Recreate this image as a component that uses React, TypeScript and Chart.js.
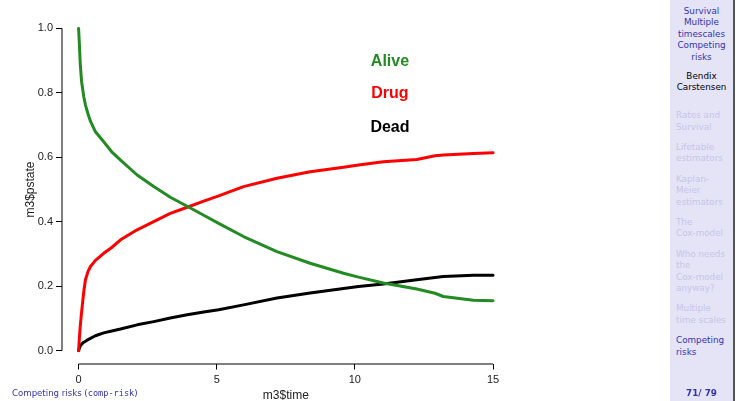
import React, { useEffect, useRef } from "react";
import { Chart, registerables } from "chart.js";

Chart.register(...registerables);

// Time since entry (years) and state probabilities for the three states
const times = [0, 0.03, 0.06, 0.11, 0.19, 0.25, 0.34, 0.43, 0.61, 0.91, 1.2, 1.52, 2.12, 2.72, 3.32, 3.93, 4.53, 5.07, 5.97, 7.18, 8.38, 9.59, 10.13, 11.03, 12.24, 12.9, 13.2, 14.29, 15];
const alive = [1.0, 0.95, 0.89, 0.834, 0.787, 0.762, 0.735, 0.712, 0.679, 0.648, 0.617, 0.591, 0.545, 0.509, 0.476, 0.448, 0.42, 0.395, 0.354, 0.307, 0.271, 0.24, 0.228, 0.21, 0.191, 0.178, 0.168, 0.156, 0.155];
const drug = [0, 0.04, 0.075, 0.12, 0.185, 0.22, 0.245, 0.261, 0.28, 0.302, 0.32, 0.344, 0.375, 0.4, 0.426, 0.445, 0.464, 0.48, 0.509, 0.535, 0.555, 0.569, 0.576, 0.586, 0.593, 0.605, 0.607, 0.612, 0.614];
const dead = [0, 0.007, 0.014, 0.02, 0.026, 0.029, 0.034, 0.038, 0.046, 0.055, 0.061, 0.067, 0.08, 0.09, 0.101, 0.111, 0.12, 0.127, 0.142, 0.163, 0.179, 0.193, 0.199, 0.207, 0.22, 0.227, 0.23, 0.234, 0.234];

const xTicks = [0, 5, 10, 15];
const yTicks = [0, 0.2, 0.4, 0.6, 0.8, 1.0];

const stateNames = ["Alive", "Drug", "Dead"];
const stateColors = ["#228B22", "#FF0000", "#000000"];
const stateSeries = [alive, drug, dead];
const labelTime = 11.27;
const labelLevels = [0.897, 0.798, 0.691];

// Sidebar navigation (Beamer style)
const talkTitle = ["Survival", "Multiple", "timescales", "Competing", "risks"];
const authorLines = ["Bendix", "Carstensen"];
const sections = [
  ["Rates and", "Survival"],
  ["Lifetable", "estimators"],
  ["Kaplan-", "Meier", "estimators"],
  ["The", "Cox-model"],
  ["Who needs", "the", "Cox-model", "anyway?"],
  ["Multiple", "time scales"],
  ["Competing", "risks"],
];
const currentSection = 6;
const pageLabel = "71/ 79";

const BLUE = "#3333B2";
const FADED = "#C4C4EA";
const FONT = "'Liberation Sans', Arial, sans-serif";

// R-style axes: lines span only from first to last tick; text labels inside plot
const rStylePlugin = {
  id: "rStyle",
  afterDraw(chart: any) {
    const { ctx, chartArea, scales } = chart;
    const x = scales.x;
    const y = scales.y;
    ctx.save();
    ctx.strokeStyle = "#000";
    ctx.lineWidth = 1;
    ctx.beginPath();
    ctx.moveTo(chartArea.left, y.getPixelForValue(yTicks[0]));
    ctx.lineTo(chartArea.left, y.getPixelForValue(yTicks[yTicks.length - 1]));
    ctx.moveTo(x.getPixelForValue(xTicks[0]), chartArea.bottom + 0.5);
    ctx.lineTo(x.getPixelForValue(xTicks[xTicks.length - 1]), chartArea.bottom + 0.5);
    ctx.stroke();

    ctx.font = `bold 16px ${FONT}`;
    ctx.textAlign = "center";
    ctx.textBaseline = "middle";
    stateNames.forEach((name, i) => {
      ctx.fillStyle = stateColors[i];
      ctx.fillText(name, x.getPixelForValue(labelTime), y.getPixelForValue(labelLevels[i]));
    });
    ctx.restore();
  },
};

function StateChart() {
  const canvasRef = useRef<HTMLCanvasElement | null>(null);

  useEffect(() => {
    if (!canvasRef.current) return;
    const datasets = stateSeries.map((series, i) => ({
      label: stateNames[i],
      data: times.map((t, k) => ({ x: t, y: series[k] })),
      borderColor: stateColors[i],
      backgroundColor: stateColors[i],
      borderWidth: 3,
      pointRadius: 0,
      showLine: true,
      tension: 0,
      borderCapStyle: "round" as const,
      borderJoinStyle: "round" as const,
    }));

    const chart = new Chart(canvasRef.current, {
      type: "scatter",
      data: { datasets },
      options: {
        responsive: false,
        animation: false,
        layout: { padding: { left: 0, top: 15.5, right: 160.4, bottom: 0 } },
        plugins: { legend: { display: false }, tooltip: { enabled: false } },
        scales: {
          x: {
            type: "linear",
            min: -0.6,
            max: 15.6,
            afterBuildTicks: (s: any) => {
              s.ticks = xTicks.map((v) => ({ value: v }));
            },
            afterFit: (s: any) => {
              s.height = 37.5;
            },
            ticks: {
              color: "#222",
              font: { size: 11, family: FONT },
              padding: 4,
              maxRotation: 0,
              autoSkip: false,
              callback: (v: any) => String(v),
            },
            grid: { drawOnChartArea: false, drawTicks: true, tickLength: 6, color: "#000" },
            border: { display: false },
            title: {
              display: true,
              text: "m3$time",
              color: "#222",
              font: { size: 12, family: FONT },
              padding: { top: 0, bottom: -2 },
            },
          },
          y: {
            type: "linear",
            min: -0.04,
            max: 1.04,
            afterBuildTicks: (s: any) => {
              s.ticks = yTicks.map((v) => ({ value: v }));
            },
            afterFit: (s: any) => {
              s.width = 62;
            },
            ticks: {
              color: "#222",
              font: { size: 11, family: FONT },
              padding: 3,
              autoSkip: false,
              callback: (v: any) => Number(v).toFixed(1),
            },
            grid: { drawOnChartArea: false, drawTicks: true, tickLength: 6, color: "#000" },
            border: { display: false },
            title: {
              display: true,
              text: "m3$pstate",
              color: "#222",
              font: { size: 12, family: FONT },
              padding: { top: 23.5, bottom: 0 },
            },
          },
        },
      },
      plugins: [rStylePlugin],
    });
    return () => chart.destroy();
  }, []);

  return <canvas ref={canvasRef} width={670} height={401} style={{ display: "block", width: 670, height: 401 }} />;
}

export default function App() {
  const sideFont = "'DejaVu Sans', sans-serif";
  return (
    <div style={{ position: "fixed", left: 0, top: 0, width: 740, height: 401, background: "#fff", overflow: "hidden" }}>
      <div style={{ position: "absolute", left: 0, top: 0 }}>
        <StateChart />
      </div>
      <div
        style={{
          position: "absolute",
          left: 12,
          top: 388,
          fontFamily: sideFont,
          fontSize: 8.6,
          lineHeight: "11px",
          color: BLUE,
          whiteSpace: "nowrap",
        }}
      >
        Competing risks (<span style={{ fontFamily: "'DejaVu Sans Mono', monospace" }}>comp-risk</span>)
      </div>
      <div
        style={{
          position: "absolute",
          left: 670,
          top: 0,
          width: 63,
          height: 401,
          background: "#E4E4F6",
          borderRight: "2px solid #555",
          fontFamily: sideFont,
          fontSize: 8.8,
          lineHeight: "11.5px",
          boxSizing: "content-box",
        }}
      >
        <div style={{ paddingTop: 5.5, textAlign: "center", color: BLUE }}>
          {talkTitle.map((l) => (
            <div key={l}>{l}</div>
          ))}
        </div>
        <div style={{ marginTop: 7.5, textAlign: "center", color: "#000" }}>
          {authorLines.map((l) => (
            <div key={l}>{l}</div>
          ))}
        </div>
        <div style={{ marginTop: 16.5, paddingLeft: 6 }}>
          {sections.map((lines, i) => (
            <div key={i} style={{ marginTop: i === 0 ? 0 : 8.8, color: i === currentSection ? BLUE : FADED }}>
              {lines.map((l, k) => (
                <div key={k} style={{ whiteSpace: "nowrap" }}>{l}</div>
              ))}
            </div>
          ))}
        </div>
        <div
          style={{
            position: "absolute",
            left: 0,
            width: 63,
            top: 388,
            textAlign: "center",
            fontWeight: "bold",
            color: BLUE,
          }}
        >
          {pageLabel}
        </div>
      </div>
    </div>
  );
}
